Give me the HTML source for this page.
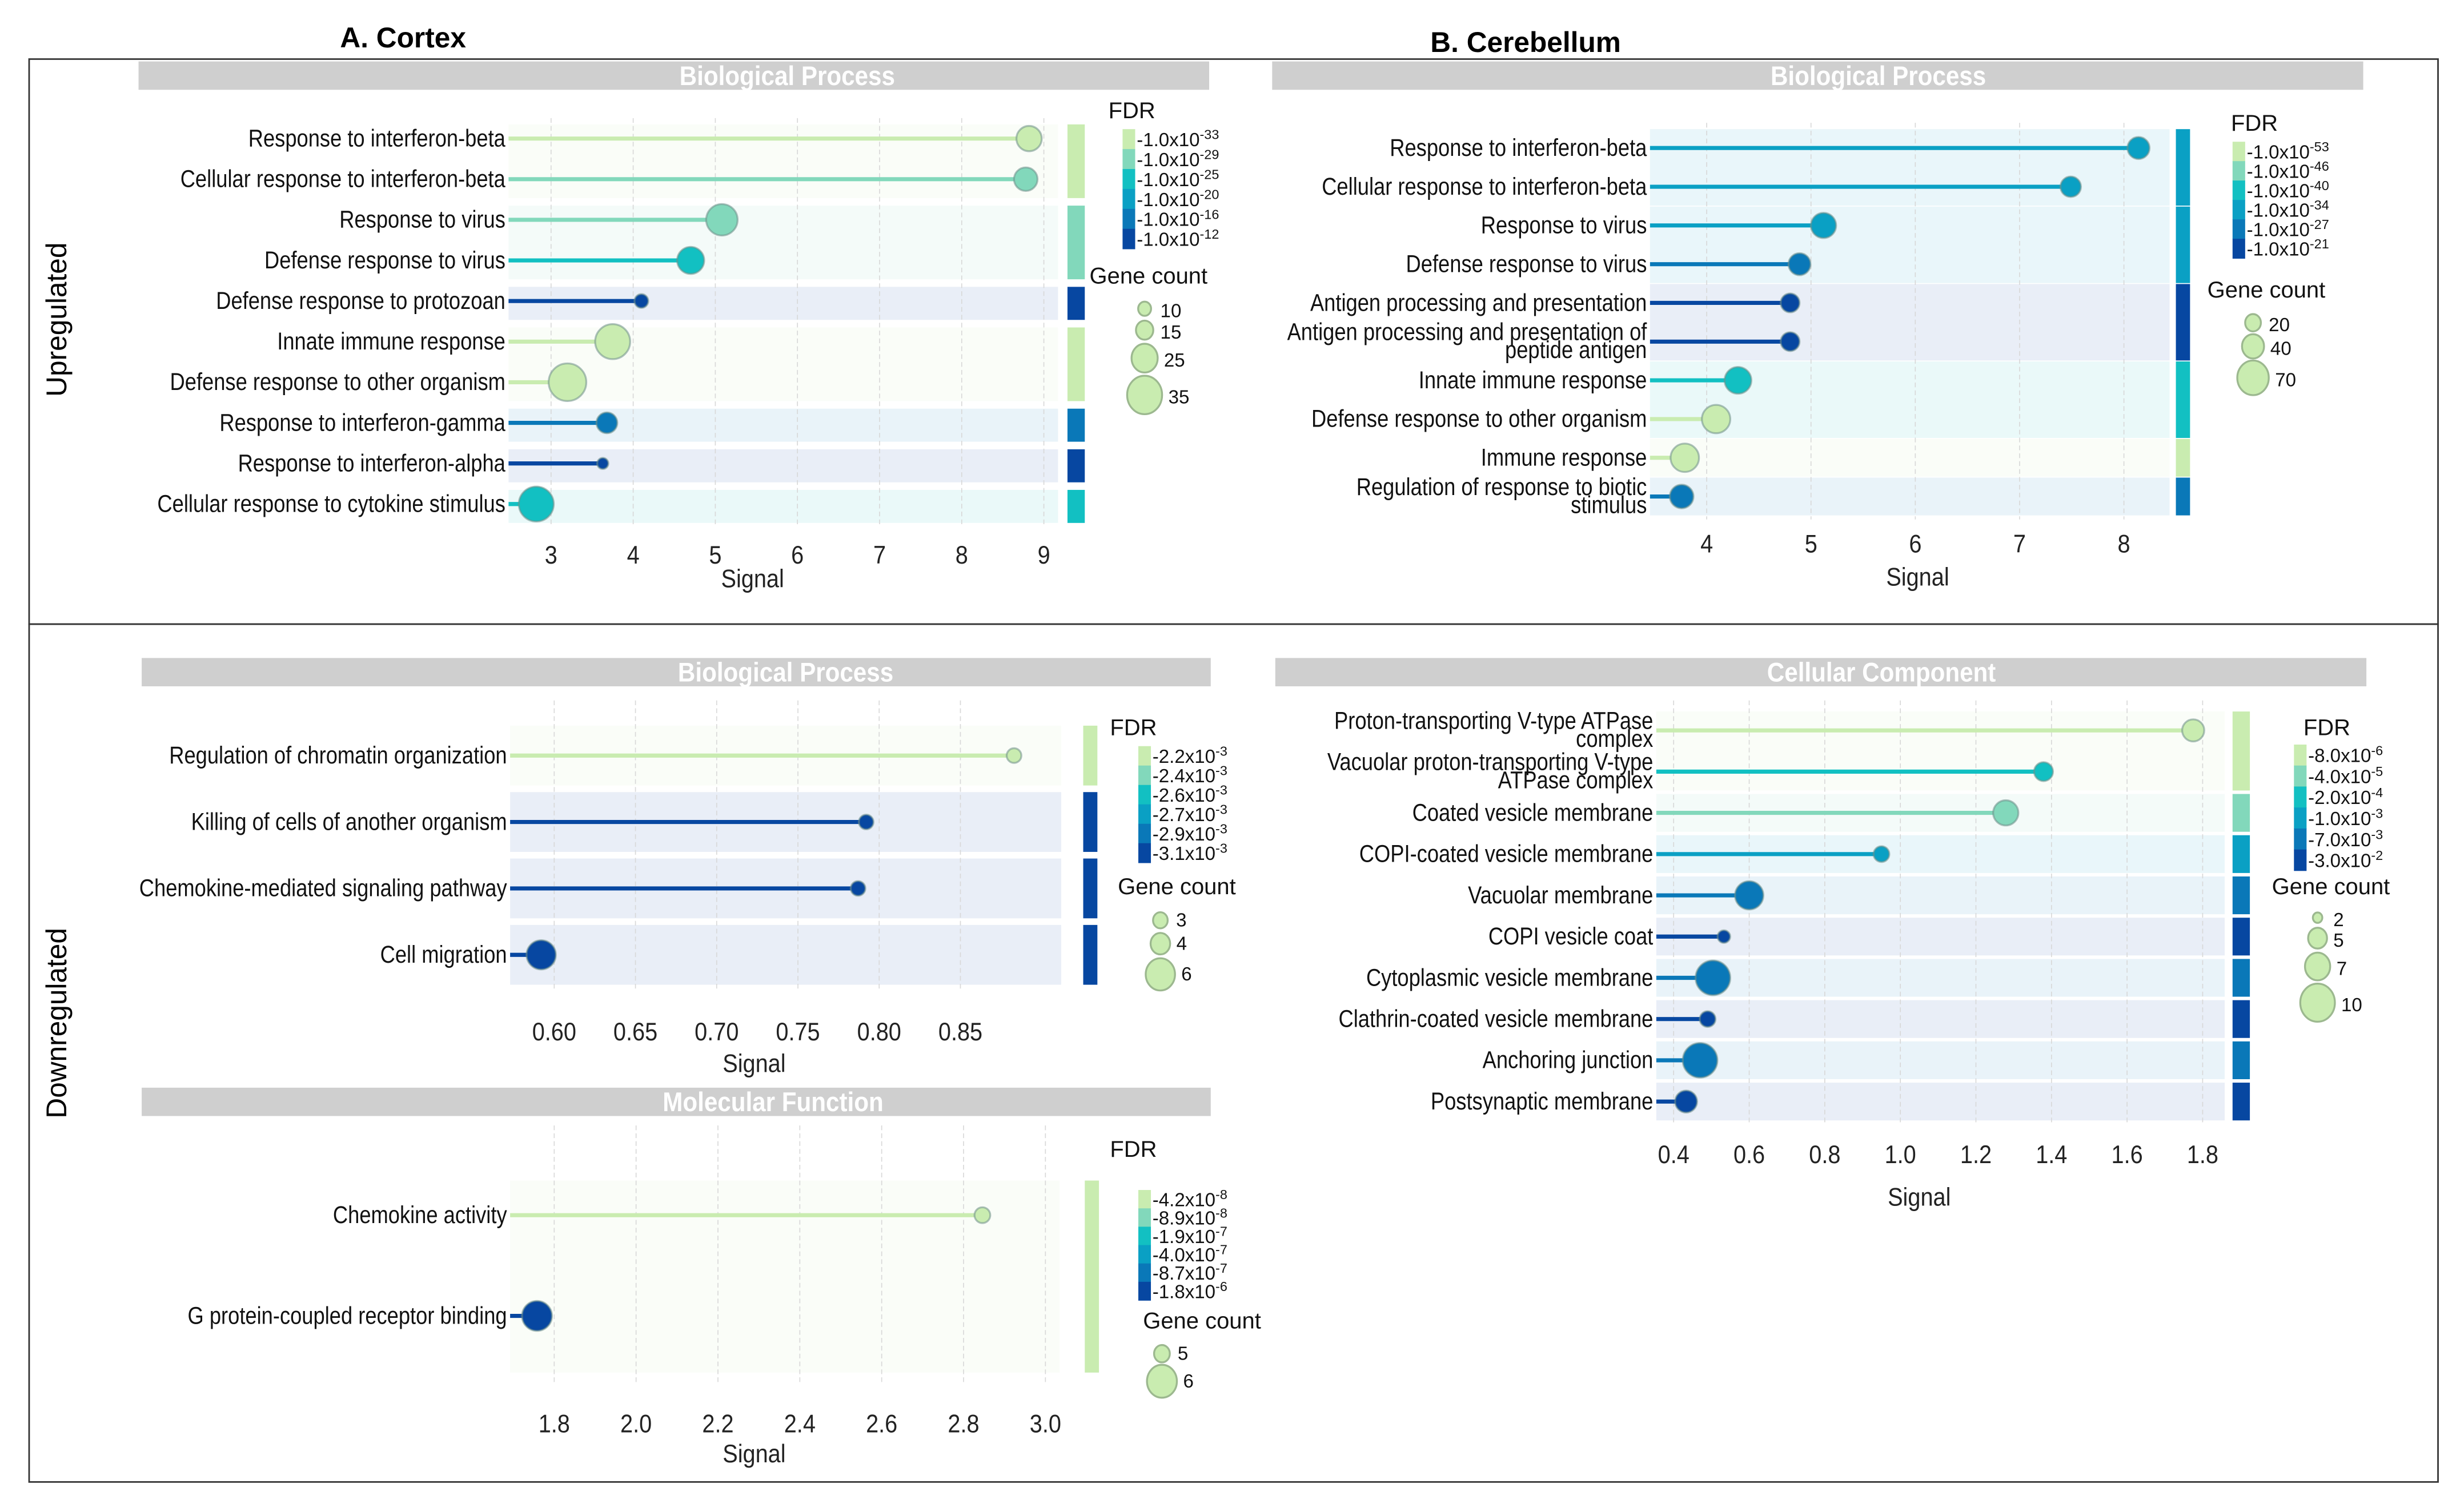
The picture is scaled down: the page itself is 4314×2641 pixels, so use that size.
<!DOCTYPE html>
<html>
<head>
<meta charset="utf-8">
<style>
html,body{margin:0;padding:0;background:#fff;}
svg{display:block;}
.lab{font-family:"Liberation Sans Narrow","Liberation Sans",sans-serif;font-size:15.5px;fill:#111;}
.tick{font-family:"Liberation Sans Narrow","Liberation Sans",sans-serif;font-size:16px;fill:#222;}
.leg{font-family:"Liberation Sans",sans-serif;font-size:12px;fill:#111;}
.legt{font-family:"Liberation Sans",sans-serif;font-size:14.5px;fill:#111;}
.strip{font-family:"Liberation Sans",sans-serif;font-size:17px;font-weight:bold;fill:#fff;}
</style>
</head>
<body>
<svg id="fig" width="4314" height="2641" viewBox="0 0 1565 958" xmlns="http://www.w3.org/2000/svg">
  <rect x="0" y="0" width="1565" height="958" fill="#fff"/>
  <rect x="18.5" y="37.5" width="1530" height="359" fill="none" stroke="#333" stroke-width="1"/>
  <rect x="18.5" y="396.5" width="1530" height="545" fill="none" stroke="#333" stroke-width="1"/>
  <text x="256" y="30" text-anchor="middle" style="font-family:'Liberation Sans',sans-serif;font-size:18px;font-weight:bold">A. Cortex</text>
  <text x="969" y="33" text-anchor="middle" style="font-family:'Liberation Sans',sans-serif;font-size:18px;font-weight:bold">B. Cerebellum</text>
  <text transform="translate(42,203) rotate(-90)" text-anchor="middle" style="font-family:'Liberation Sans',sans-serif;font-size:18px">Upregulated</text>
  <text transform="translate(42,650) rotate(-90)" text-anchor="middle" style="font-family:'Liberation Sans',sans-serif;font-size:18px">Downregulated</text>
  <g id="layer"></g>
</svg>
<script>
// ---------- DATA ----------
// Panel A up (Cortex, Biological Process)
const aUpTerms = ["Response to interferon-beta","Cellular response to interferon-beta","Response to virus","Defense response to virus","Defense response to protozoan","Innate immune response","Defense response to other organism","Response to interferon-gamma","Response to interferon-alpha","Cellular response to cytokine stimulus"];
const aUpSignal = [8.82, 8.78, 5.08, 4.70, 4.10, 3.75, 3.20, 3.68, 3.63, 2.82];
const aUpCount = [24, 22, 31, 26, 11, 35, 38, 19, 8, 35];
const aUpFdrLevel = [0, 1, 1, 2, 5, 0, 0, 4, 5, 2];
const aUpGroups = [2, 2, 1, 2, 1, 1, 1];
const aUpGroupLevel = [0, 1, 5, 0, 4, 5, 2];
const aUpTicks = [3, 4, 5, 6, 7, 8, 9];
const aUpFdrLabels = ["-33","-29","-25","-20","-16","-12"];
const aUpSizeLegend = [10, 15, 25, 35];

// Panel B up (Cerebellum, Biological Process)
const bUpTerms = ["Response to interferon-beta","Cellular response to interferon-beta","Response to virus","Defense response to virus","Antigen processing and presentation","Antigen processing and presentation of\npeptide antigen","Innate immune response","Defense response to other organism","Immune response","Regulation of response to biotic\nstimulus"];
const bUpSignal = [8.14, 7.49, 5.12, 4.89, 4.80, 4.80, 4.30, 4.09, 3.79, 3.76];
const bUpCount = [40, 35, 50, 40, 30, 30, 55, 60, 60, 45];
const bUpFdrLevel = [3, 3, 3, 4, 5, 5, 2, 0, 0, 4];
const bUpGroups = [2, 2, 2, 2, 1, 1];
const bUpGroupLevel = [3, 3, 5, 2, 0, 4];
const bUpTicks = [4, 5, 6, 7, 8];
const bUpFdrLabels = ["-53","-46","-40","-34","-27","-21"];
const bUpSizeLegend = [20, 40, 70];

// Panel A down BP
const aBpTerms = ["Regulation of chromatin organization","Killing of cells of another organism","Chemokine-mediated signaling pathway","Cell migration"];
const aBpSignal = [0.883, 0.792, 0.787, 0.592];
const aBpCount = [3, 3, 3, 6];
const aBpFdrLevel = [0, 5, 5, 5];
const aBpGroups = [1, 1, 1, 1];
const aBpGroupLevel = [0, 5, 5, 5];
const aBpTicks = [0.60, 0.65, 0.70, 0.75, 0.80, 0.85];
const aBpFdrLabels = ["2.2x10","2.4x10","2.6x10","2.7x10","2.9x10","3.1x10"];
const aBpFdrExp = ["-3","-3","-3","-3","-3","-3"];
const aBpSizeLegend = [3, 4, 6];

// Panel A down MF
const aMfTerms = ["Chemokine activity","G protein-coupled receptor binding"];
const aMfSignal = [2.846, 1.758];
const aMfCount = [5, 6];
const aMfFdrLevel = [0, 5];
const aMfGroups = [2];
const aMfGroupLevel = [0];
const aMfTicks = [1.8, 2.0, 2.2, 2.4, 2.6, 2.8, 3.0];
const aMfFdrLabels = ["4.2x10","8.9x10","1.9x10","4.0x10","8.7x10","1.8x10"];
const aMfFdrExp = ["-8","-8","-7","-7","-7","-6"];
const aMfSizeLegend = [5, 6];

// Panel B down CC
const bCcTerms = ["Proton-transporting V-type ATPase\ncomplex","Vacuolar proton-transporting V-type\nATPase complex","Coated vesicle membrane","COPI-coated vesicle membrane","Vacuolar membrane","COPI vesicle coat","Cytoplasmic vesicle membrane","Clathrin-coated vesicle membrane","Anchoring junction","Postsynaptic membrane"];
const bCcSignal = [1.775, 1.379, 1.279, 0.95, 0.60, 0.533, 0.504, 0.49, 0.47, 0.433];
const bCcCount = [6, 5, 7, 4, 8, 3, 10, 4, 10, 6];
const bCcFdrLevel = [0, 2, 1, 3, 4, 5, 4, 5, 4, 5];
const bCcGroups = [2, 1, 1, 1, 1, 1, 1, 1, 1];
const bCcGroupLevel = [0, 1, 3, 4, 5, 4, 5, 4, 5];
const bCcTicks = [0.4, 0.6, 0.8, 1.0, 1.2, 1.4, 1.6, 1.8];
const bCcFdrLabels = ["8.0x10","4.0x10","2.0x10","1.0x10","7.0x10","3.0x10"];
const bCcFdrExp = ["-6","-5","-4","-3","-3","-2"];
const bCcSizeLegend = [2, 5, 7, 10];

// ---------- RENDER ----------
const PAL = ["#c9ecb0","#82d8bb","#12c0c2","#0aa0c4","#0a78b8","#0747a1"];
const NS = "http://www.w3.org/2000/svg";
const SQ = 0.85;
const layer = document.getElementById('layer');
function mk(tag, attrs, parent){
  const e = document.createElementNS(NS, tag);
  for (const k in attrs) e.setAttribute(k, attrs[k]);
  (parent || layer).appendChild(e);
  return e;
}
function fmt(v, dec){ return v.toFixed(dec); }

function drawPanel(id, d, g){
  const grp = mk('g', {});
  
  
  const xs = v => g.px0 + (v - g.v0) * (g.px1 - g.px0) / (g.v1 - g.v0);
  const rs = c => g.r0 + (c - g.c0) * (g.r1 - g.r0) / (g.c1 - g.c0);
  const ys = i => g.y0 + i * g.pitch;

  // strip
  const st = mk('rect', {x:g.sx0, y:g.sy, width:g.sx1-g.sx0, height:18, fill:'#cfcfcf'}, grp);
  
  
  const stt = mk('text', {x:0, y:0, 'text-anchor':'middle', class:'strip', transform:'translate(' + g.stc + ',' + (g.sy+15) + ') scale(0.9,1)'}, grp);
  stt.textContent = g.strip;
  
  

  // bands + side bars
  let start = 0;
  d.groups.forEach((n, gi) => {
    const top = ys(start) - g.padT;
    const bot = ys(start + n - 1) + g.padB;
    const col = PAL[d.groupLevel[gi]];
    const b = mk('rect', {x:g.left, y:top, width:g.right-g.left, height:bot-top, fill:col, 'fill-opacity':0.09}, grp);
    
    
    const sb = mk('rect', {x:g.barX, y:top, width:g.barW, height:bot-top, fill:col}, grp);
    
    
    start += n;
  });

  // gridlines + ticks
  d.ticks.forEach(t => {
    const x = xs(t);
    const gl = mk('line', {x1:x, x2:x, y1:g.gTop, y2:g.gBot, stroke:'#d8d8d8', 'stroke-width':0.6, 'stroke-dasharray':'3,2'}, grp);
    
    
    const tl = mk('text', {x:0, y:0, 'text-anchor':'middle', class:'tick', transform:'translate(' + x + ',' + g.tickY + ') scale(0.9,1)'}, grp);
    tl.textContent = fmt(t, g.dec);
    
    
  });
  const xt = mk('text', {x:0, y:0, 'text-anchor':'middle', class:'tick', transform:'translate(' + g.titleX + ',' + g.titleY + ') scale(0.9,1)'}, grp);
  xt.textContent = 'Signal';
  
  

  // lollipops
  d.terms.forEach((term, i) => {
    const y = ys(i);
    const col = PAL[d.level[i]];
    const ln = mk('line', {x1:g.left, x2:xs(d.signal[i]), y1:y, y2:y, stroke:col, 'stroke-width':2.6}, grp);
    
    
    const c = mk('circle', {cx:xs(d.signal[i]), cy:y, r:rs(d.count[i]), fill:col, stroke:'#6f8f8a', 'stroke-opacity':0.55, 'stroke-width':1.2}, grp);
    
    
    const lines = term.split('\n');
    const lab = mk('text', {x:0, y:0, 'text-anchor':'end', class:'lab', transform:'translate(' + (g.left-2) + ',' + (y + 5 - (lines.length-1)*6) + ') scale(' + SQ + ',1)'}, grp);
    
    
    lines.forEach((s, k) => {
      const ts = mk('tspan', {x:0, dy: k===0 ? 0 : 11.5}, lab);
      ts.textContent = s;
    });
  });

  // FDR legend
  const ft = mk('text', {x:g.lx, y:g.ly, class:'legt'}, grp);
  ft.textContent = 'FDR';
  
  
  const segH = g.lbH / 6;
  for (let k = 0; k < 6; k++){
    const sy = g.lbY + k*segH;
    const s = mk('rect', {x:g.lbX, y:sy, width:8, height:segH+0.3, fill:PAL[k]}, grp);
    
    
    const tl = mk('text', {x:g.lbX+9, y:sy+segH/2+4.5, class:'leg'}, grp);
    
    
    const a = mk('tspan', {}, tl); a.textContent = '-' + d.fdrLab[k];
    const b = mk('tspan', {dy:-4.5, 'font-size':'8.5px'}, tl); b.textContent = d.fdrExp[k];
  }
  // size legend
  const gt = mk('text', {x:g.gx, y:g.gy, class:'legt'}, grp);
  gt.textContent = 'Gene count';
  
  
  let cy = g.gy + 8;
  d.sizeLeg.forEach((c, k) => {
    const r = rs(c);
    cy += r + g.gsp;
    const cc = mk('ellipse', {cx:g.gcx, cy:cy, rx:r, ry:r*1.1, fill:'#c9ecb0', stroke:'#9cb88f', 'stroke-width':1.2}, grp);
    
    
    const t = mk('text', {x:g.gcx + Math.max(r,6) + 4, y:cy + (g.gfs/2.8), class:'leg', 'font-size':g.gfs+'px'}, grp);
    t.textContent = c;
    
    
    cy += r;
  });
}

drawPanel('cortex-up', {terms:aUpTerms, signal:aUpSignal, count:aUpCount, level:aUpFdrLevel, groups:aUpGroups, groupLevel:aUpGroupLevel, ticks:aUpTicks, fdrLab:["1.0x10","1.0x10","1.0x10","1.0x10","1.0x10","1.0x10"], fdrExp:aUpFdrLabels, sizeLeg:aUpSizeLegend},
  {px0:350, v0:3, px1:663, v1:9, dec:0, r0:4.1, c0:10, r1:11.1, c1:35, y0:88, pitch:25.8, padT:9, padB:12,
   left:323, right:672, barX:678, barW:11, sx0:88, sx1:768, sy:39, stc:500, strip:'Biological Process',
   gTop:75, gBot:335, tickY:358, titleX:478, titleY:373,
   lx:704, ly:75, lbX:713, lbY:82, lbH:76, gx:692, gy:180, gcx:727, gsp:4, gfs:15});
drawPanel('cerebellum-up', {terms:bUpTerms, signal:bUpSignal, count:bUpCount, level:bUpFdrLevel, groups:bUpGroups, groupLevel:bUpGroupLevel, ticks:bUpTicks, fdrLab:["1.0x10","1.0x10","1.0x10","1.0x10","1.0x10","1.0x10"], fdrExp:bUpFdrLabels, sizeLeg:bUpSizeLegend},
  {px0:1084, v0:4, px1:1349, v1:8, dec:0, r0:5, c0:20, r1:10, c1:70, y0:94, pitch:24.6, padT:12, padB:12,
   left:1048, right:1378, barX:1382, barW:9, sx0:808, sx1:1501, sy:39, stc:1193, strip:'Biological Process',
   gTop:78, gBot:330, tickY:351, titleX:1218, titleY:372,
   lx:1417, ly:83, lbX:1418, lbY:90, lbH:74, gx:1402, gy:189, gcx:1431, gsp:3, gfs:15});
drawPanel('cortex-down-bp', {terms:aBpTerms, signal:aBpSignal, count:aBpCount, level:aBpFdrLevel, groups:aBpGroups, groupLevel:aBpGroupLevel, ticks:aBpTicks, fdrLab:aBpFdrLabels, fdrExp:aBpFdrExp, sizeLeg:aBpSizeLegend},
  {px0:352, v0:0.6, px1:610, v1:0.85, dec:2, r0:4.65, c0:3, r1:9.3, c1:6, y0:480, pitch:42.2, padT:19, padB:19,
   left:324, right:674, barX:688, barW:9, sx0:90, sx1:769, sy:418, stc:499, strip:'Biological Process',
   gTop:445, gBot:628, tickY:661, titleX:479, titleY:681,
   lx:705, ly:467, lbX:723, lbY:474, lbH:74, gx:710, gy:568, gcx:737, gsp:4, gfs:11});
drawPanel('cortex-down-mf', {terms:aMfTerms, signal:aMfSignal, count:aMfCount, level:aMfFdrLevel, groups:aMfGroups, groupLevel:aMfGroupLevel, ticks:aMfTicks, fdrLab:aMfFdrLabels, fdrExp:aMfFdrExp, sizeLeg:aMfSizeLegend},
  {px0:352, v0:1.8, px1:664, v1:3.0, dec:1, r0:5, c0:5, r1:9.5, c1:6, y0:772, pitch:64, padT:22, padB:36,
   left:324, right:673, barX:689, barW:9, sx0:90, sx1:769, sy:691, stc:491, strip:'Molecular Function',
   gTop:715, gBot:880, tickY:910, titleX:479, titleY:929,
   lx:705, ly:735, lbX:723, lbY:756, lbH:70, gx:726, gy:844, gcx:738, gsp:3, gfs:11});
drawPanel('cerebellum-down-cc', {terms:bCcTerms, signal:bCcSignal, count:bCcCount, level:bCcFdrLevel, groups:bCcGroups, groupLevel:bCcGroupLevel, ticks:bCcTicks, fdrLab:bCcFdrLabels, fdrExp:bCcFdrExp, sizeLeg:bCcSizeLegend},
  {px0:1063, v0:0.4, px1:1399, v1:1.8, dec:1, r0:3, c0:2, r1:11, c1:10, y0:464, pitch:26.2, padT:12, padB:12,
   left:1052, right:1413, barX:1418, barW:11, sx0:810, sx1:1503, sy:418, stc:1195, strip:'Cellular Component',
   gTop:445, gBot:715, tickY:739, titleX:1219, titleY:766,
   lx:1463, ly:467, lbX:1457, lbY:473, lbH:80, gx:1443, gy:568, gcx:1472, gsp:4, gfs:15});
</script>
</body>
</html>
